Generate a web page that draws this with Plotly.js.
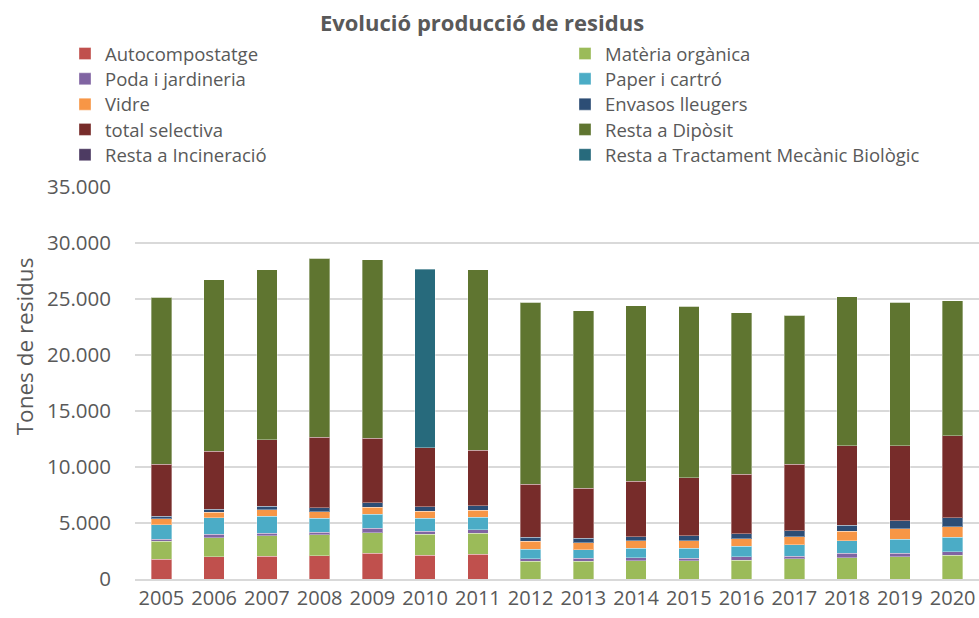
<!DOCTYPE html>
<html>
<head>
<meta charset="utf-8">
<script src="https://cdn.plot.ly/plotly-3.0.1.min.js"></script>
<style>html,body{margin:0;padding:0;background:#fff;}#chart{width:979px;height:618px;}</style>
</head>
<body>
<div id="chart"></div>
<script>
var years = ["2005","2006","2007","2008","2009","2010","2011","2012","2013","2014","2015","2016","2017","2018","2019","2020"];
var autocompostatge = [1770, 2000, 2030, 2090, 2300, 2120, 2210, 0, 0, 0, 0, 0, 0, 0, 0, 0];
var materiaOrganica = [1600, 1690, 1840, 1870, 1840, 1870, 1870, 1590, 1590, 1650, 1650, 1680, 1800, 1910, 2000, 2120];
var podaJardineria = [180, 300, 210, 210, 390, 270, 300, 210, 270, 270, 210, 300, 240, 390, 300, 330];
var paperCarto = [1280, 1490, 1510, 1250, 1250, 1160, 1130, 860, 770, 830, 890, 950, 1040, 1130, 1250, 1280];
var vidre = [560, 500, 590, 590, 620, 650, 650, 710, 620, 680, 680, 680, 710, 830, 950, 950];
var envasos = [210, 270, 330, 330, 390, 390, 360, 350, 390, 360, 420, 420, 530, 560, 680, 770];
var totalSelectiva = [4630, 5170, 5910, 6320, 5760, 5280, 4990, 4750, 4450, 4960, 5200, 5340, 5910, 7060, 6710, 7360];
var restaDiposit = [14930, 15320, 15170, 16000, 15970, 0, 16090, 16240, 15880, 15670, 15290, 14400, 13300, 13300, 12820, 12050];
var restaIncineracio = [0, 0, 0, 0, 0, 0, 0, 0, 0, 0, 0, 0, 0, 0, 0, 0];
var restaTMB = [0, 0, 0, 0, 0, 15910, 0, 0, 0, 0, 0, 0, 0, 0, 0, 0];

var seriesNames = ["Autocompostatge","Matèria orgànica","Poda i jardineria","Paper i cartró","Vidre","Envasos lleugers","total selectiva","Resta a Dipòsit","Resta a Incineració","Resta a Tractament Mecànic Biològic"];
var seriesValues = [autocompostatge, materiaOrganica, podaJardineria, paperCarto, vidre, envasos, totalSelectiva, restaDiposit, restaIncineracio, restaTMB];
var seriesColors = ["#C0504D","#9BBB59","#8064A2","#4BACC6","#F79646","#2C4D75","#772C2A","#5F7530","#4D3B62","#276A7C"];

var txt = '#595959';
var W = 979, H = 618;

var traces = seriesNames.map(function(n, i){
  return {
    type: 'bar', name: n, x: years, y: seriesValues[i],
    legend: i === 0 ? 'legend' : 'legend' + (i + 1),
    marker: {color: seriesColors[i], line: {color: 'rgba(255,255,255,0.35)', width: 1}}
  };
});

var layout = {
  width: W, height: H,
  barmode: 'stack', bargap: 0.61,
  separators: ',.',
  paper_bgcolor: '#fff', plot_bgcolor: '#fff',
  font: {family: 'Open Sans, sans-serif', color: txt},
  margin: {l: 135, r: 0, t: 187, b: 39},
  title: {text: '<b>Evolució producció de residus</b>', font: {size: 22, color: txt, family: 'Open Sans, sans-serif'},
          x: 482 / W, xanchor: 'center', y: 1 - 23 / H, yanchor: 'middle', xref: 'container', yref: 'container'},
  showlegend: true,
  xaxis: {type: 'category', tickfont: {size: 20, color: txt}, showline: true, linecolor: '#D9D9D9', linewidth: 2,
          ticks: '', showgrid: false, fixedrange: true},
  yaxis: {range: [0, 35000], dtick: 5000, tickformat: ',.0f', tickfont: {size: 20.5, color: txt},
          showgrid: true, gridcolor: '#D9D9D9', gridwidth: 1.5, zeroline: false, showline: false, ticks: '',
          ticklabelstandoff: 23, fixedrange: true},
  annotations: [{text: 'Tones de residus', textangle: -90, showarrow: false, xref: 'paper', yref: 'paper',
                 x: (24 - 135) / 844, y: (579.5 - 346.5) / 392.5, xanchor: 'center', yanchor: 'middle',
                 font: {size: 22.5, color: txt}}]
};

// one legend box per entry, laid out in two columns of five rows
seriesNames.forEach(function(n, i){
  var col = i % 2, row = Math.floor(i / 2);
  var key = i === 0 ? 'legend' : 'legend' + (i + 1);
  layout[key] = {
    orientation: 'h', xref: 'container', yref: 'container',
    x: (col === 0 ? 65 : 565) / W, xanchor: 'left',
    y: 1 - (54 + row * 25.3) / H, yanchor: 'middle',
    font: {size: 18.5, color: txt}, bgcolor: 'rgba(0,0,0,0)'
  };
});

Plotly.newPlot('chart', traces, layout, {displayModeBar: false, staticPlot: true});
</script>
</body>
</html>
